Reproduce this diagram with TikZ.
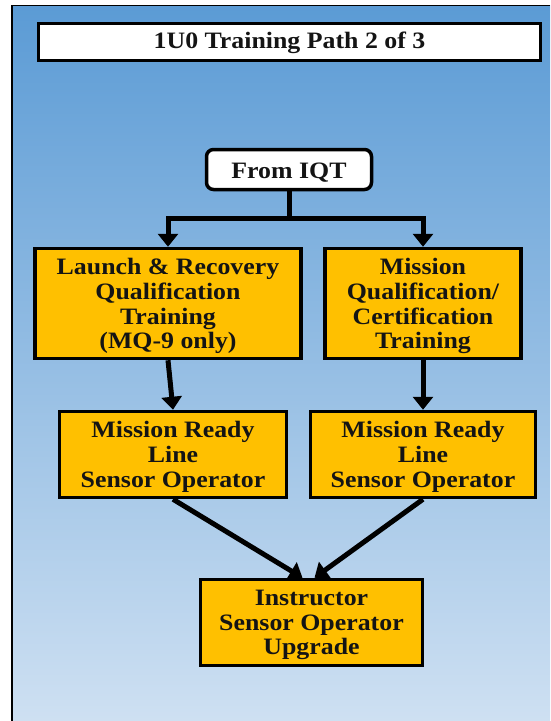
\documentclass[tikz,border=0pt]{standalone}
\usepackage{fontspec}
\setmainfont{Liberation Serif}[FakeStretch=1.1]
\usetikzlibrary{arrows.meta,calc}
\definecolor{panelTop}{RGB}{91,155,213}
\definecolor{panelBot}{RGB}{206,224,242}
\definecolor{boxorange}{RGB}{255,192,0}
\definecolor{txt}{RGB}{20,20,20}
\tikzset{
  boxfont/.style={font=\bfseries\fontsize{23.5}{24.7}\selectfont, text=txt},
  stepbox/.style={draw=black, line width=3.5pt, fill=boxorange, align=center, inner sep=0pt, boxfont,
    text depth=-5pt},
  titlebox/.style={draw=black, line width=3pt, fill=white, align=center, inner sep=0pt, boxfont,
    execute at begin node={\rule{0pt}{19pt}}},
  startbox/.style={draw=black, line width=3.5pt, fill=white, rounded corners=7pt, align=center, inner sep=0pt, boxfont,
    execute at begin node={\rule{0pt}{21pt}}},
  flow/.style={line width=5pt, draw=black, -{Triangle[width=20pt,length=13pt]}},
  flowline/.style={line width=5pt, draw=black}
}
\begin{document}
\begin{tikzpicture}[x=1pt,y=-1pt]
\useasboundingbox (0,0) rectangle (550,721);
\fill[white] (0,0) rectangle (550,721);
\shade[top color=panelTop, bottom color=panelBot] (12,5) rectangle (550,721);
\draw[line width=2.4pt] (12,721) -- (12,5.5);
\draw[line width=1.5pt] (11,5.5) -- (550,5.5);

\node[titlebox, minimum width=502pt, minimum height=37pt] (title) at (289.5,41.5) {1U0 Training Path 2 of 3};
\node[startbox, minimum width=165pt, minimum height=40pt] (iqt) at (289,169.5) {From IQT};
\node[stepbox, minimum width=266pt, minimum height=110pt] (lr) at (168,303.5) {Launch \& Recovery\\Qualification\\Training\\(MQ-9 only)};
\node[stepbox, minimum width=196pt, minimum height=110pt] (mq) at (423,303.5) {Mission\\Qualification/\\Certification\\Training};
\node[stepbox, minimum width=227pt, minimum height=86pt] (mrl1) at (173,454.5) {Mission Ready\\Line\\Sensor Operator};
\node[stepbox, minimum width=225pt, minimum height=86pt] (mrl2) at (423,454.5) {Mission Ready\\Line\\Sensor Operator};
\node[stepbox, minimum width=222pt, minimum height=86pt] (iso) at (311.5,622.5) {Instructor\\Sensor Operator\\Upgrade};

\draw[flowline] (iqt.south) -- ++(0,27) coordinate (j);
\draw[flow] ($(j)+(2.5,0)$) -| (lr.north);
\draw[flow] ($(j)-(2.5,0)$) -| (mq.north);
\draw[flow] (lr.south) -- (mrl1.north);
\draw[flow] (mq.south) -- (mrl2.north);
\draw[flow] (mrl1.south) -- ([xshift=-9pt]iso.north);
\draw[flow] (mrl2.south) -- ([xshift=3pt]iso.north);
\end{tikzpicture}
\end{document}
